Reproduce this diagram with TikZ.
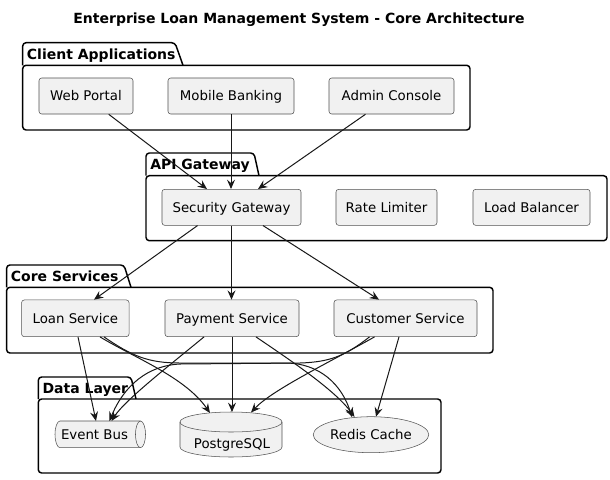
\documentclass[tikz,border=0pt]{standalone}
\usepackage{fontspec}
\setmainfont{DejaVu Sans}
\usetikzlibrary{arrows.meta,calc,shapes.geometric}
\definecolor{nodefill}{HTML}{F1F1F1}
\definecolor{ink}{HTML}{181818}
\newcommand\drawpkg[9]{%
  \draw[pkgline, fill=white] (#1,-#3) [rounded corners=2.5pt] -- (#1,-#2) -- (#4,-#2) [sharp corners] -- (#5,-#3);
  \draw[pkgline, fill=white, rounded corners=2.5pt] (#1,-#3) rectangle (#6,-#7);
  \node[pkgtitle] (#8) at (#1+4, -#2/2-#3/2) {#9};
}
\begin{document}
\begin{tikzpicture}[x=0.75pt,y=0.75pt,
  comp/.style={draw=ink!75, line width=0.4pt, fill=nodefill, rounded corners=2pt, minimum height=27pt, inner sep=0pt, text height=7.3pt, text depth=0pt, font=\fontsize{10}{12}\selectfont},
  pkgline/.style={draw=black, line width=1.1pt, line join=round},
  pkgtitle/.style={anchor=west, inner sep=0pt, text height=7.6pt, text depth=0pt, font=\fontsize{10.5}{12}\selectfont\bfseries},
  shapeline/.style={draw=ink!75, line width=0.4pt, fill=nodefill},
  conn/.style={draw=ink, line width=0.75pt, -{Stealth[length=7pt,width=6pt,inset=2.5pt]}},
  txt/.style={inner sep=0pt, text height=7.3pt, text depth=0pt, font=\fontsize{10}{12}\selectfont}
]
\useasboundingbox (0,0) rectangle (610,-479);
\fill[white] (0,0) rectangle (610,-479);

\node[inner sep=0pt, text height=7.6pt, text depth=0pt, font=\fontsize{10.5}{12}\selectfont\bfseries] (title) at (299,-18) {Enterprise Loan Management System - Core Architecture};

% packages
\drawpkg{22.7}{42.7}{65.3}{175}{183}{470}{130}{pclient}{Client Applications}
\drawpkg{146}{153}{175.7}{254}{259}{607}{240.7}{papi}{API Gateway}
\drawpkg{6.6}{265}{287.3}{124}{131}{493}{353}{pcore}{Core Services}
\drawpkg{38.3}{377}{399}{131}{136}{441}{473}{pdata}{Data Layer}

% client nodes
\node[comp, minimum width=70.5pt] (wp) at (86,-96) {Web Portal};
\node[comp, minimum width=94.5pt] (mb) at (231,-96) {Mobile Banking};
\node[comp, minimum width=93.75pt] (ac) at (391.5,-96) {Admin Console};
% api nodes
\node[comp, minimum width=104.25pt] (sg) at (231.5,-207.3) {Security Gateway};
\node[comp, minimum width=75.75pt] (rl) at (386.5,-207.3) {Rate Limiter};
\node[comp, minimum width=87.75pt] (lb) at (531.5,-207.3) {Load Balancer};
% core nodes
\node[comp, minimum width=80.6pt, minimum height=27.5pt] (ls) at (75.3,-318.3) {Loan Service};
\node[comp, minimum width=100.5pt, minimum height=27.5pt] (ps) at (232,-318.3) {Payment Service};
\node[comp, minimum width=107.25pt, minimum height=27.5pt] (cs) at (405.5,-318.3) {Customer Service};

% data nodes
\draw[shapeline] (60,-421) -- (140.5,-421) arc[start angle=90,end angle=-90,x radius=5,y radius=13.35]
  -- (60,-447.7) arc[start angle=270,end angle=90,x radius=5,y radius=13.35] -- cycle;
\draw[shapeline, fill=none] (140.5,-421) arc[start angle=90,end angle=270,x radius=5,y radius=13.35];
\node[txt] (eb) at (94.5,-434.35) {Event Bus};

\draw[shapeline] (180,-422) -- (180,-447) arc[start angle=180,end angle=360,x radius=51,y radius=10]
  -- (282,-422) arc[start angle=0,end angle=180,x radius=51,y radius=10] -- cycle;
\draw[shapeline, fill=none] (180,-422) arc[start angle=180,end angle=360,x radius=51,y radius=10];
\node[txt] (pg) at (232,-444) {PostgreSQL};

\node[shapeline, ellipse, minimum width=81pt, minimum height=27pt, inner sep=0pt, text height=7.3pt, text depth=0pt, font=\fontsize{10}{12}\selectfont] (rc) at (371,-434.7) {Redis Cache};

% connectors client -> api
\draw[conn] ($(wp.south)+(22.7,0)$) -- ($(sg.north)+(-24.5,0)$);
\draw[conn] (mb.south) -- (mb.south |- sg.north);
\draw[conn] ($(ac.south)+(-26,0)$) -- ($(sg.north)+(26.5,0)$);
% api -> core
\draw[conn] ($(sg.south)+(-34,0)$) -- ($(ls.north)+(18.7,0)$);
\draw[conn] (sg.south) -- (sg.south |- ps.north);
\draw[conn] ($(sg.south)+(31.5,0)$) -- ($(cs.north)+(-26.5,0)$);
% core -> data
\draw[conn] ($(ls.south)+(2.7,0)$) -- ($(eb.center)+(1.5,13.35)$);
\draw[conn] ($(ls.south)+(24.7,0)$) .. controls (135,-358) and (185,-377) .. ($(pg.center)+(-22,31)$);
\draw[conn] ($(ls.south)+(28.7,0)$) .. controls (132,-356) and (148,-363) .. (180,-363) -- (285,-363) .. controls (320,-363) and (342,-385) .. ($(rc.center)+(-19,17.5)$);
\draw[conn] ($(ps.south)+(-28,0)$) .. controls (170,-365) and (125,-400) .. ($(eb.center)+(17,13.35)$);
\draw[conn] (ps.south) -- (ps.south |- 0,-412);
\draw[conn] ($(ps.south)+(24,0)$) .. controls (290,-360) and (335,-390) .. ($(rc.center)+(-16.5,17.8)$);
\draw[conn] ($(cs.south)+(-36,0)$) .. controls (345,-356) and (330,-362) .. (300,-363) -- (180,-364) .. controls (140,-366) and (120,-395) .. ($(eb.center)+(15,13.35)$);
\draw[conn] ($(cs.south)+(-31,0)$) .. controls (330,-362) and (272,-390) .. ($(pg.center)+(19,31.5)$);
\draw[conn] ($(cs.south)+(-6.5,0)$) -- ($(rc.center)+(5,18)$);
\end{tikzpicture}
\end{document}
